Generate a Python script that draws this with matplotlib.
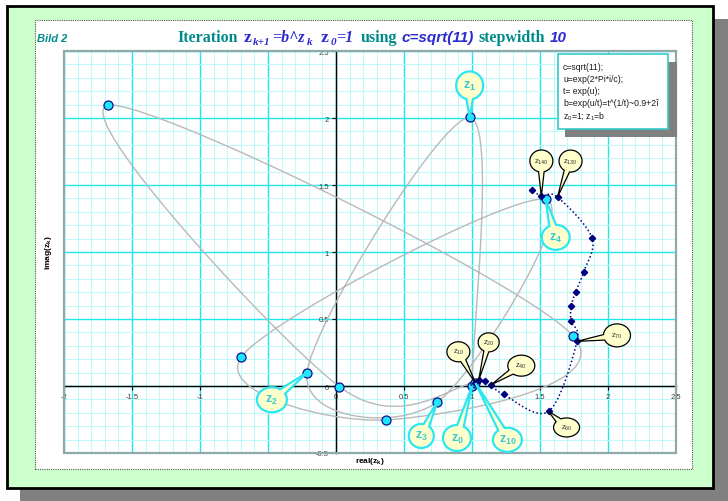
import numpy as np
import matplotlib
matplotlib.use("Agg")
import matplotlib.pyplot as plt
from matplotlib.patches import Rectangle, Polygon
from matplotlib.ticker import MultipleLocator

plt.rcParams["font.family"] = ["Liberation Sans", "DejaVu Sans"]
plt.rcParams["mathtext.default"] = "regular"

# ---------------- data ----------------
# iterates z_0 .. z_10 (real / imaginary parts)
orbit_re = [1.000, 0.983, -0.214, 0.745, 1.542, -0.695, 0.370, 1.746, -1.680, 0.025, 1.025]
orbit_im = [0.000, 2.004, 0.099, -0.119, 1.393, 0.219, -0.253, 0.372, 2.095, -0.005, 0.024]

# every 10th iterate z_10, z_20, ..., z_150
step_k = [10, 20, 30, 40, 50, 60, 70, 80, 90, 100, 110, 120, 130, 140, 150]
step_re = [1.025, 1.049, 1.098, 1.142, 1.232, 1.563, 1.772, 1.728, 1.730, 1.762,
           1.821, 1.882, 1.629, 1.510, 1.441]
step_im = [0.024, 0.042, 0.037, 0.010, -0.063, -0.190, 0.333, 0.482, 0.594, 0.704,
           0.851, 1.107, 1.410, 1.418, 1.465]

x_ticks = [-2, -1.5, -1, -0.5, 0, 0.5, 1, 1.5, 2, 2.5]
# the -0.5 label sits underneath the z_2 balloon
x_tick_labels = ["-2", "-1.5", "-1", "", "0", "0.5", "1", "1.5", "2", "2.5"]
y_ticks = [-0.5, 0, 0.5, 1, 1.5, 2, 2.5]
y_tick_labels = ["-0.5", "0", "0.5", "1", "1.5", "2", "2.5"]

info_lines = ["c=sqrt(11);", "u=exp(2*Pi*i/c);", "t= exp(u);",
              "b=exp(u/t)=t^(1/t)~0.9+2\u00ee", "z$_0$=1; z$_1$=b"]

# callouts: (text, series, index, dx, dy, width, height, style) -- offsets in px
callouts = [
    ("z$_1$", "orbit", 1, 0, -32, 27, 28, "cyan"),
    ("z$_4$", "orbit", 4, 10, 38, 28, 25, "cyan"),
    ("z$_2$", "orbit", 2, -35, 27, 30, 25, "cyan"),
    ("z$_3$", "orbit", 3, -16, 34, 25, 24, "cyan"),
    ("z$_0$", "orbit", 0, -15, 52, 28, 26, "cyan"),
    ("z$_{10}$", "orbit", 10, 32, 57, 29, 24, "cyan"),
    ("z$_{10}$", "step", 0, -17, -31, 23, 20, "dark"),
    ("z$_{20}$", "step", 1, 10, -38, 21, 19, "dark"),
    ("z$_{40}$", "step", 3, 30, -19, 27, 21, "dark"),
    ("z$_{60}$", "step", 5, 18, 16, 26, 19, "dark"),
    ("z$_{70}$", "step", 6, 40, -6, 27, 23, "dark"),
    ("z$_{130}$", "step", 12, 13, -36, 23, 22, "dark"),
    ("z$_{140}$", "step", 13, 0, -35, 23, 22, "dark"),
]

W, H = 728, 502
TEAL = "#008b8b"
BLUE = "#2b2bd0"


def smooth(xs, ys, n=24):
    """Smoothed polyline through the points (cubic Bezier, Catmull-Rom tangents)."""
    P = np.column_stack([xs, ys]).astype(float)
    out = [P[0]]
    t = np.linspace(0, 1, n)[1:, None]
    for i in range(len(P) - 1):
        p0 = P[i - 1] if i > 0 else P[i]
        p1, p2 = P[i], P[i + 1]
        p3 = P[i + 2] if i + 2 < len(P) else P[i + 1]
        c1 = p1 + (p2 - p0) / 6.0
        c2 = p2 - (p3 - p1) / 6.0
        seg = ((1 - t) ** 3) * p1 + 3 * ((1 - t) ** 2) * t * c1 + 3 * (1 - t) * t ** 2 * c2 + t ** 3 * p2
        out.extend(seg)
    out = np.array(out)
    return out[:, 0], out[:, 1]


def fig_rect(x0, y0, x1, y1):
    return (x0 / W, 1 - y1 / H), (x1 - x0) / W, (y1 - y0) / H


fig = plt.figure(figsize=(W / 100, H / 100), dpi=100, facecolor="white")

# frame: shadow, green card, white panel
for (x0, y0, x1, y1), kw in [
    ((20, 20, 728, 502), dict(fc="#808080", ec="none")),
    ((7, 7, 713, 489), dict(fc="#ccffcc", ec="black", lw=2)),
    ((35, 21, 692, 470), dict(fc="white", ec="#555555", lw=0.8, ls=(0, (1, 1)))),
]:
    xy, w, h = fig_rect(x0, y0, x1, y1)
    fig.add_artist(Rectangle(xy, w, h, transform=fig.transFigure, zorder=-5, **kw))

ax = fig.add_axes([64 / W, (H - 454) / H, 612 / W, 402 / H])
ax.set_xlim(-2, 2.5)
ax.set_ylim(-0.5, 2.5)
ax.set_facecolor("white")
ax.set_axisbelow(True)

ax.xaxis.set_minor_locator(MultipleLocator(0.1))
ax.yaxis.set_minor_locator(MultipleLocator(0.1))
ax.set_xticks(x_ticks)
ax.set_xticklabels(x_tick_labels)
ax.set_yticks(y_ticks)
ax.set_yticklabels(y_tick_labels)
ax.grid(which="minor", color="#bff9f9", lw=0.75)
ax.grid(which="major", color="#1ee8ee", lw=1.0)
ax.tick_params(which="minor", length=0)
ax.tick_params(which="major", direction="out", length=3, width=0.8, color="black",
               labelsize=5.5, labelcolor="#3a3a3a", pad=2)

for s in ("top", "right"):
    ax.spines[s].set_visible(False)
for s in ("left", "bottom"):
    ax.spines[s].set_position(("data", 0))
    ax.spines[s].set_color("black")
    ax.spines[s].set_linewidth(1.0)
    ax.spines[s].set_zorder(2.6)
ax.add_patch(Rectangle((0, 0), 1, 1, transform=ax.transAxes, fill=False,
                       ec="#8fa9a9", lw=1.6, clip_on=False, zorder=3))

# orbit z_0..z_10: smoothed grey path with cyan markers
sx, sy = smooth(orbit_re, orbit_im)
ax.plot(sx, sy, color="#b9b9b9", lw=1.0, zorder=3)
ax.plot(orbit_re, orbit_im, ls="none", marker="o", ms=6.5, mfc="#1ee6ff",
        mec="#10108a", mew=0.9, zorder=4)

# every 10th iterate: dotted navy path with diamonds
tx, ty = smooth(step_re, step_im)
ax.plot(tx, ty, color="#000080", lw=1.1, ls=(0, (1, 1.6)), zorder=5)
ax.plot(step_re, step_im, ls="none", marker="D", ms=3.2, mfc="#000080",
        mec="#000080", zorder=6)


def balloon(x, y, dx, dy, w, h, text, style):
    T = ax.transData
    px, py = T.transform((x, y))
    cx, cy = px + dx, py - dy
    a, b = w / 2.0, h / 2.0
    ang = np.arctan2((py - cy) / b, (px - cx) / a)
    d = np.radians(14)
    ts = np.linspace(ang + d, ang + 2 * np.pi - d, 80)
    pts = np.column_stack([cx + a * np.cos(ts), cy + b * np.sin(ts)])
    pts = np.vstack([pts, [px, py]])
    inv = T.inverted()
    if style == "cyan":
        ec, lw, tc, fs, fw = "#2ee6f2", 1.6, "#3cc8d2", 9, "bold"
    else:
        ec, lw, tc, fs, fw = "black", 0.9, "#333333", 5.5, "normal"
    ax.add_patch(Polygon(inv.transform(pts), closed=True, fc="#ffffcc", ec=ec,
                         lw=lw, zorder=8, clip_on=False))
    lx, ly = inv.transform((cx, cy))
    ax.text(lx, ly, text, ha="center", va="center", fontsize=fs, fontweight=fw,
            color=tc, zorder=9)


for text, series, idx, dx, dy, w, h, style in callouts:
    if series == "orbit":
        x, y = orbit_re[idx], orbit_im[idx]
    else:
        x, y = step_re[idx], step_im[idx]
    balloon(x, y, dx, dy, w, h, text, style)

# axis titles
fig.text(370 / W, 1 - 462 / H, "real(z$_k$)", ha="center", va="center",
         fontsize=6, fontweight="bold", color="black")
fig.text(48 / W, 1 - 253 / H, "imag(z$_k$)", ha="center", va="center",
         rotation=90, fontsize=6, fontweight="bold", color="black")

# figure tag
fig.text(37 / W, 1 - 42 / H, "Bild 2", ha="left", va="baseline", fontsize=8,
         fontweight="bold", fontstyle="italic", color=TEAL)

# info box with shadow
xy, w, h = fig_rect(565, 63, 677, 138)
fig.add_artist(Rectangle(xy, w, h, transform=fig.transFigure, fc="#808080",
                         ec="none", zorder=10))
xy, w, h = fig_rect(558, 55, 668, 130)
fig.add_artist(Rectangle(xy, w, h, transform=fig.transFigure, fc="white",
                         ec="#33cccc", lw=1.2, zorder=11))
for i, line in enumerate(info_lines):
    fig.text(563 / W, 1 - (67.5 + 12.0 * i) / H, line, ha="left", va="center",
             fontsize=6.2, color="#1a1a1a", zorder=12)

# title assembled from differently styled runs
SERIF = ["Liberation Serif", "DejaVu Serif"]
SANS = ["Liberation Sans", "DejaVu Sans"]
runs = [
    ("Iteration", TEAL, SERIF, "normal", 11.5, 0, 5),
    ("z", BLUE, SERIF, "normal", 12.5, 0, 2),
    ("k+1", BLUE, SERIF, "italic", 8, -3, 1),
    ("=b^z", BLUE, SERIF, "italic", 11.5, 0, 2),
    ("k", BLUE, SERIF, "italic", 8, -3, 9),
    ("z", BLUE, SERIF, "normal", 12.5, 0, 2),
    ("0", BLUE, SERIF, "italic", 8, -3, 0),
    ("=1", BLUE, SERIF, "italic", 11.5, 0, 7),
    ("using", TEAL, SERIF, "normal", 11.5, 0, 4),
    ("c=sqrt(11)", BLUE, SANS, "italic", 11, 0, 5),
    ("stepwidth", TEAL, SERIF, "normal", 11.5, 0, 5),
    ("10", BLUE, SANS, "italic", 11, 0, 0),
]
renderer = fig.canvas.get_renderer()
base_y = 42
items = []
total = 0.0
for text, col, fam, style, size, shift, gap in runs:
    t = fig.text(0, 0, text, color=col, family=fam, fontweight="bold",
                 fontstyle=style, fontsize=size, ha="left", va="baseline")
    wpx = t.get_window_extent(renderer).width
    items.append((t, total, shift))
    total += wpx + gap
x_start = 372.5 - total / 2.0
for t, off, shift in items:
    t.set_position(((x_start + off) / W, 1 - (base_y - shift) / H))

fig.savefig("out.png", dpi=100, facecolor=fig.get_facecolor())
